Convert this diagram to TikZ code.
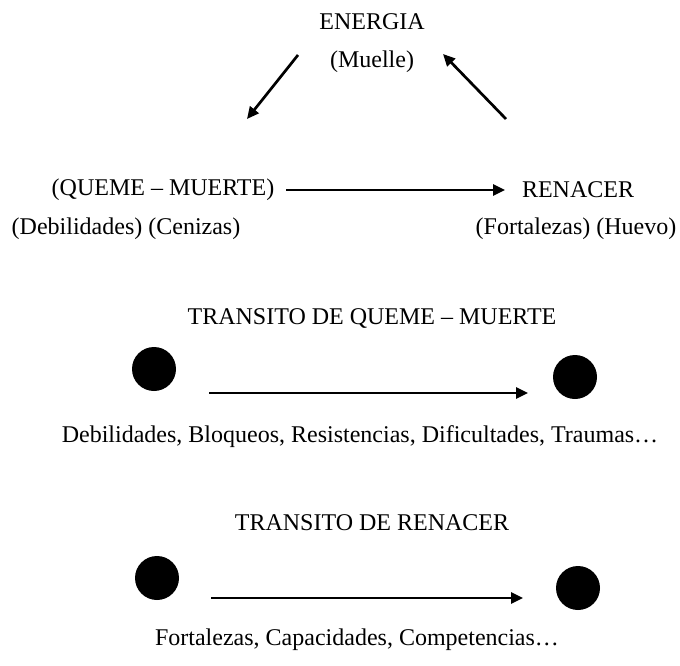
\documentclass[tikz,border=0pt]{standalone}
\usepackage{fontspec}
\setmainfont{Liberation Serif}
\usetikzlibrary{arrows.meta}
\begin{document}
\begin{tikzpicture}[x=1pt,y=-1pt,
  lbl/.style={inner sep=0pt,anchor=center,font=\fontsize{24}{28}\selectfont},
  conn/.style={line width=2.7pt,-{Triangle[length=12pt,width=11pt]}},
  dot/.style={circle,fill=black,minimum size=44pt,inner sep=0pt}]
\useasboundingbox (0,0) rectangle (680,666);
\node[lbl] (energia) at (372,22) {ENERGIA};
\node[lbl] (muelle) at (372,62) {(Muelle)};
\node[lbl] (queme) at (163,190) {(QUEME – MUERTE)};
\node[lbl] (renacer) at (578,190) {RENACER};
\node[lbl] (deb) at (126,229) {(Debilidades) (Cenizas)};
\node[lbl] (fort) at (576,229) {(Fortalezas) (Huevo)};
\node[lbl] (t1) at (372,318) {TRANSITO DE QUEME – MUERTE};
\node[lbl] (l1) at (360,437) {Debilidades, Bloqueos, Resistencias, Dificultades, Traumas…};
\node[lbl] (t2) at (372,523) {TRANSITO DE RENACER};
\node[lbl] (l2) at (357,640) {Fortalezas, Capacidades, Competencias…};
\node[dot] (d1) at (154,369) {};
\node[dot] (d2) at (575,377) {};
\node[dot] (d3) at (157,578) {};
\node[dot] (d4) at (578,588) {};
\coordinate (a1s) at (298,55);
\coordinate (a1e) at (247,119);
\coordinate (a2s) at (506,119);
\coordinate (a2e) at (443,54);
\coordinate (a3s) at (286,190);
\coordinate (a3e) at (505,190);
\coordinate (a4s) at (209,393);
\coordinate (a4e) at (528,393);
\coordinate (a5s) at (211,598);
\coordinate (a5e) at (523,598);
\draw[conn] (a1s) -- (a1e);
\draw[conn] (a2s) -- (a2e);
\draw[conn] (a3s) -- (a3e);
\draw[conn] (a4s) -- (a4e);
\draw[conn] (a5s) -- (a5e);
\end{tikzpicture}
\end{document}
